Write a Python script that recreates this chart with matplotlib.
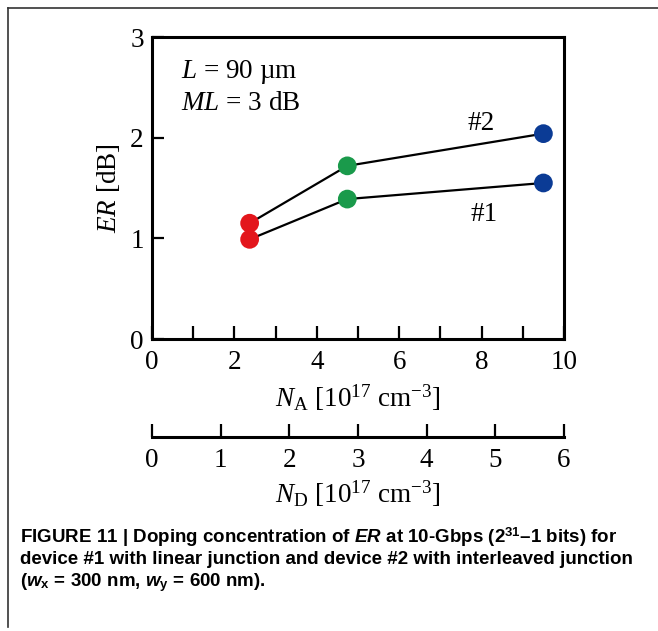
import matplotlib
matplotlib.use("Agg")
import matplotlib.pyplot as plt
from matplotlib.lines import Line2D

# ---- data ----
na_values = [2.37, 4.74, 9.5]            # N_A [1e17 cm^-3]
er_device1 = [0.99, 1.39, 1.55]          # #1 linear junction
er_device2 = [1.15, 1.72, 2.04]          # #2 interleaved junction
point_colors = ["#e3161c", "#1a9a4b", "#0b3b95"]
x_major = [0, 2, 4, 6, 8, 10]
x_minor = [1, 3, 5, 7, 9]
y_ticks = [0, 1, 2, 3]
nd_ticks = [0, 1, 2, 3, 4, 5, 6]
na_to_nd = 0.6

plt.rcParams["mathtext.fontset"] = "custom"
plt.rcParams["mathtext.rm"] = "Liberation Serif"
plt.rcParams["mathtext.it"] = "Liberation Serif:italic"
plt.rcParams["mathtext.bf"] = "Liberation Sans:bold"
plt.rcParams["mathtext.bfit"] = "Liberation Sans:italic:bold"
plt.rcParams["font.family"] = "Liberation Serif"

W, H = 658, 631
fig = plt.figure(figsize=(W / 100, H / 100), dpi=100)

x0, x1, ytop, ybot = 152, 564, 37, 339
ax = fig.add_axes([x0 / W, 1 - ybot / H, (x1 - x0) / W, (ybot - ytop) / H])

fs = 19.5
ax.plot(na_values, er_device1, color="black", lw=1.6, zorder=2)
ax.plot(na_values, er_device2, color="black", lw=1.6, zorder=2)
for xs, ys in ((na_values, er_device1), (na_values, er_device2)):
    ax.scatter(xs, ys, s=13.5 ** 2, c=point_colors, zorder=3, clip_on=False, linewidths=0)

ax.set_xlim(0, 10)
ax.set_ylim(0, 3)
ax.set_xticks(x_major)
ax.set_xticks(x_minor, minor=True)
ax.set_yticks(y_ticks)
for s in ax.spines.values():
    s.set_linewidth(2.2)
ax.tick_params(axis="x", which="both", direction="in", length=9.5, width=1.6,
               labelsize=fs, pad=8, top=False)
ax.tick_params(axis="y", which="both", direction="in", length=8.5, width=1.6,
               labelsize=fs, pad=6, right=False)
ax.set_xlabel(r"$N_{\mathrm{A}}$ [10$^{17}$ cm$^{-3}$]", fontsize=fs, labelpad=5)
ax.set_ylabel(r"$ER$ [dB]", fontsize=fs, labelpad=6)

ax.text(0.07, 0.885, r"$L$ = 90 µm", transform=ax.transAxes, fontsize=fs, va="center")
ax.text(0.07, 0.78, r"$ML$ = 3 dB", transform=ax.transAxes, fontsize=fs, va="center")
ax.text(8.0, 2.14, "#2", fontsize=fs, ha="center", va="center")
ax.text(8.05, 1.24, "#1", fontsize=fs, ha="center", va="center")

sec = ax.secondary_xaxis((ybot - 437) / (ybot - ytop),
                         functions=(lambda v: v * na_to_nd, lambda v: v / na_to_nd))
sec.set_xticks(nd_ticks)
sec.spines["bottom"].set_linewidth(2.2)
sec.tick_params(direction="in", length=9.5, width=1.6, labelsize=fs, pad=8)
sec.set_xlabel(r"$N_{\mathrm{D}}$ [10$^{17}$ cm$^{-3}$]", fontsize=fs, labelpad=4)

# outer frame (top and left edges)
fig.add_artist(Line2D([8 / W, 1], [1 - 8 / H, 1 - 8 / H], transform=fig.transFigure,
                      color="#333333", lw=1.2))
fig.add_artist(Line2D([8 / W, 8 / W], [1 - 8 / H, 1 - 627 / H], transform=fig.transFigure,
                      color="#333333", lw=1.2))

cap_lines = [
    r"FIGURE 11 | Doping concentration of $\mathbfit{ER}$ at 10-Gbps (2$^{\mathbf{31}}$–1 bits) for",
    r"device #1 with linear junction and device #2 with interleaved junction",
    r"($\mathbfit{w}_{\mathbf{x}}$ = 300 nm, $\mathbfit{w}_{\mathbf{y}}$ = 600 nm).",
]
cap_y = [537, 560, 583]
for t, yy in zip(cap_lines, cap_y):
    fig.text(20 / W, 1 - yy / H, t, fontsize=13.5, fontweight="bold",
             family=["Liberation Sans Narrow", "Liberation Sans"], va="center", ha="left")

fig.savefig("out.png", dpi=100)
